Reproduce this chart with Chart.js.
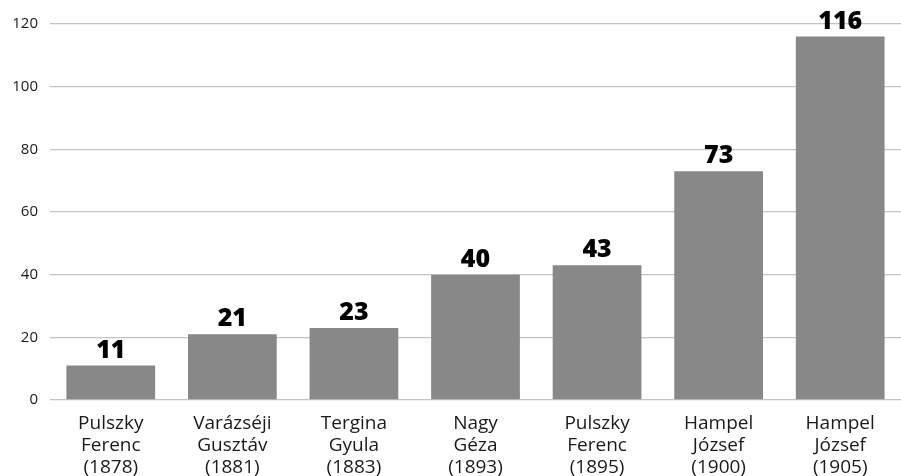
<!DOCTYPE html>
<html>
<head>
<meta charset="utf-8">
<script src="https://cdn.jsdelivr.net/npm/chart.js@4"></script>
<style>
  html, body { margin: 0; padding: 0; background: #fff; }
  #wrap { width: 901px; height: 476px; }
</style>
</head>
<body>
<div id="wrap"><canvas id="grafico"></canvas></div>
<script>
const names = [
    ["Pulszky", "Ferenc", "(1878)"],
    ["Varázséji", "Gusztáv", "(1881)"],
    ["Tergina", "Gyula", "(1883)"],
    ["Nagy", "Géza", "(1893)"],
    ["Pulszky", "Ferenc", "(1895)"],
    ["Hampel", "József", "(1900)"],
    ["Hampel", "József", "(1905)"],
];
const counts = [11, 21, 23, 40, 43, 73, 116];
const yTicks = [0, 20, 40, 60, 80, 100, 120];

// valores em cima das barras
const barLabels = {
    id: "barLabels",
    afterDatasetsDraw(chart) {
        const ctx = chart.ctx;
        const meta = chart.getDatasetMeta(0);
        ctx.save();
        ctx.font = "800 25px 'Open Sans'";
        ctx.fillStyle = "#000";
        ctx.textAlign = "center";
        ctx.textBaseline = "alphabetic";
        meta.data.forEach((bar, i) => {
            ctx.fillText(String(counts[i]), bar.x, bar.y - 8);
        });
        ctx.restore();
    },
};

new Chart(document.getElementById("grafico"), {
    type: "bar",
    data: {
        labels: names,
        datasets: [{
            data: counts,
            backgroundColor: "#888888",
            categoryPercentage: 1,
            barPercentage: 0.73,
        }],
    },
    options: {
        responsive: true,
        maintainAspectRatio: false,
        animation: false,
        layout: { padding: { top: 24, right: 0, bottom: 0, left: 0 } },
        plugins: {
            legend: { display: false },
            tooltip: { enabled: false },
        },
        scales: {
            x: {
                grid: { display: false },
                border: { display: false },
                ticks: {
                    color: "#1a1a1a",
                    font: { size: 19, family: "Open Sans", lineHeight: 1.18 },
                    padding: 4,
                    maxRotation: 0,
                    autoSkip: false,
                },
                afterFit(axis) { axis.height = 76; },
            },
            y: {
                min: 0,
                max: 120,
                afterBuildTicks(axis) {
                    axis.ticks = yTicks.map((v) => ({ value: v }));
                },
                grid: { color: "#c4c4c4", lineWidth: 1.3, drawTicks: false },
                border: { display: false },
                ticks: {
                    color: "#1a1a1a",
                    font: { size: 15, family: "Open Sans" },
                    padding: 12,
                },
                afterFit(axis) { axis.width = 50; },
            },
        },
    },
    plugins: [barLabels],
});
</script>
</body>
</html>
